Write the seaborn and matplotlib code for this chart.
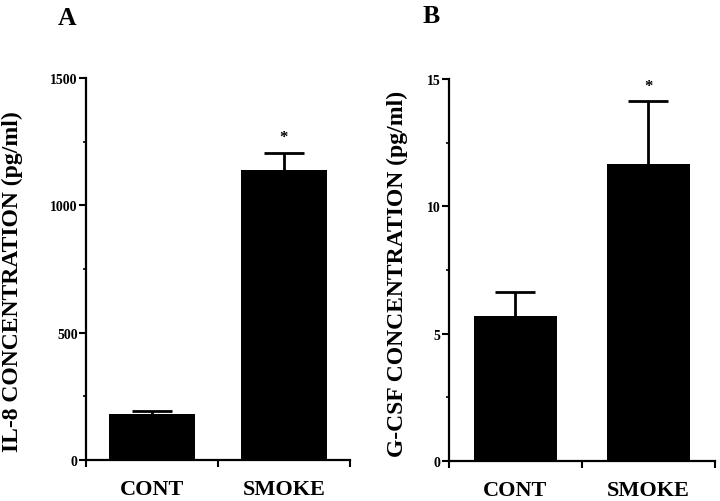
import matplotlib
matplotlib.use("Agg")
import matplotlib.pyplot as plt
import seaborn as sns
import pandas as pd

sns.set_theme(style="ticks")
plt.rcParams['font.family'] = ['Liberation Serif', 'DejaVu Serif']
plt.rcParams['font.weight'] = 'bold'
plt.rcParams['axes.labelweight'] = 'bold'
for k in ('text.color', 'axes.labelcolor', 'xtick.color', 'ytick.color', 'axes.edgecolor'):
    plt.rcParams[k] = 'black'

categories = ['CONT', 'SMOKE']
il8_mean = [182, 1138]
il8_err = [12, 69]
gcsf_mean = [5.71, 11.67]
gcsf_err = [0.91, 2.46]
il8_yticks = [0, 500, 1000, 1500]
il8_yminor = [250, 750, 1250]
gcsf_yticks = [0, 5, 10, 15]
gcsf_yminor = [2.5, 7.5, 12.5]
sig = ['', '*']

fig = plt.figure(figsize=(7.2, 5.02), dpi=100)
axA = fig.add_axes([0.1194, 0.0817, 0.3667, 0.761])
axB = fig.add_axes([0.6236, 0.0797, 0.3694, 0.761])


def draw(ax, means, errs, ylabel, major, minor, width, label_xy):
    df = pd.DataFrame({'group': categories, 'value': means})
    sns.barplot(data=df, x='group', y='value', ax=ax, color='black',
                saturation=1, width=width, errorbar=None, linewidth=0)
    eb = ax.errorbar(range(len(categories)), means,
                     yerr=[[0] * len(errs), errs], fmt='none', ecolor='black',
                     elinewidth=2, capsize=14.4, capthick=2, zorder=5)
    eb[1][0].set_visible(False)
    for i, (m, e, s) in enumerate(zip(means, errs, sig)):
        if s:
            ax.annotate(s, xy=(i, m + e), xytext=(0, 8), textcoords='offset points',
                        ha='center', va='baseline', fontsize=12, fontweight='bold')
    ax.set_xlim(-0.5, 1.5)
    ax.set_ylim(major[0], major[-1])
    ax.set_xticks([0, 1])
    ax.set_xticklabels(categories, fontsize=16, fontweight='bold')
    ax.set_xticks([-0.5, 0.5, 1.5], minor=True)
    ax.tick_params(axis='x', which='major', length=0, pad=14)
    ax.tick_params(axis='x', which='minor', length=5, width=1.5, direction='out')
    ax.set_yticks(major)
    ax.set_yticklabels([str(v) for v in major], fontsize=10, fontweight='bold')
    ax.set_yticks(minor, minor=True)
    ax.tick_params(axis='y', which='major', length=5, width=1.5, pad=1)
    ax.tick_params(axis='y', which='minor', length=2.5, width=1.2)
    ax.set_xlabel('')
    ax.set_ylabel(ylabel, fontsize=17, fontweight='bold')
    ax.yaxis.set_label_coords(*label_xy)
    sns.despine(ax=ax)
    for sp in ('left', 'bottom'):
        ax.spines[sp].set_linewidth(1.6)
        ax.spines[sp].set_color('black')


draw(axA, il8_mean, il8_err, 'IL-8 CONCENTRATION (pg/ml)', il8_yticks, il8_yminor,
     0.65, (-0.238, 0.469))
draw(axB, gcsf_mean, gcsf_err, 'G-CSF CONCENTRATION (pg/ml)', gcsf_yticks, gcsf_yminor,
     0.63, (-0.155, 0.492))

fig.text(67 / 720, 1 - 25 / 502, 'A', ha='center', va='baseline', fontsize=18.5, fontweight='bold')
fig.text(431 / 720, 1 - 23 / 502, 'B', ha='center', va='baseline', fontsize=18.5, fontweight='bold')

fig.savefig('out.png', dpi=100, facecolor='white')
